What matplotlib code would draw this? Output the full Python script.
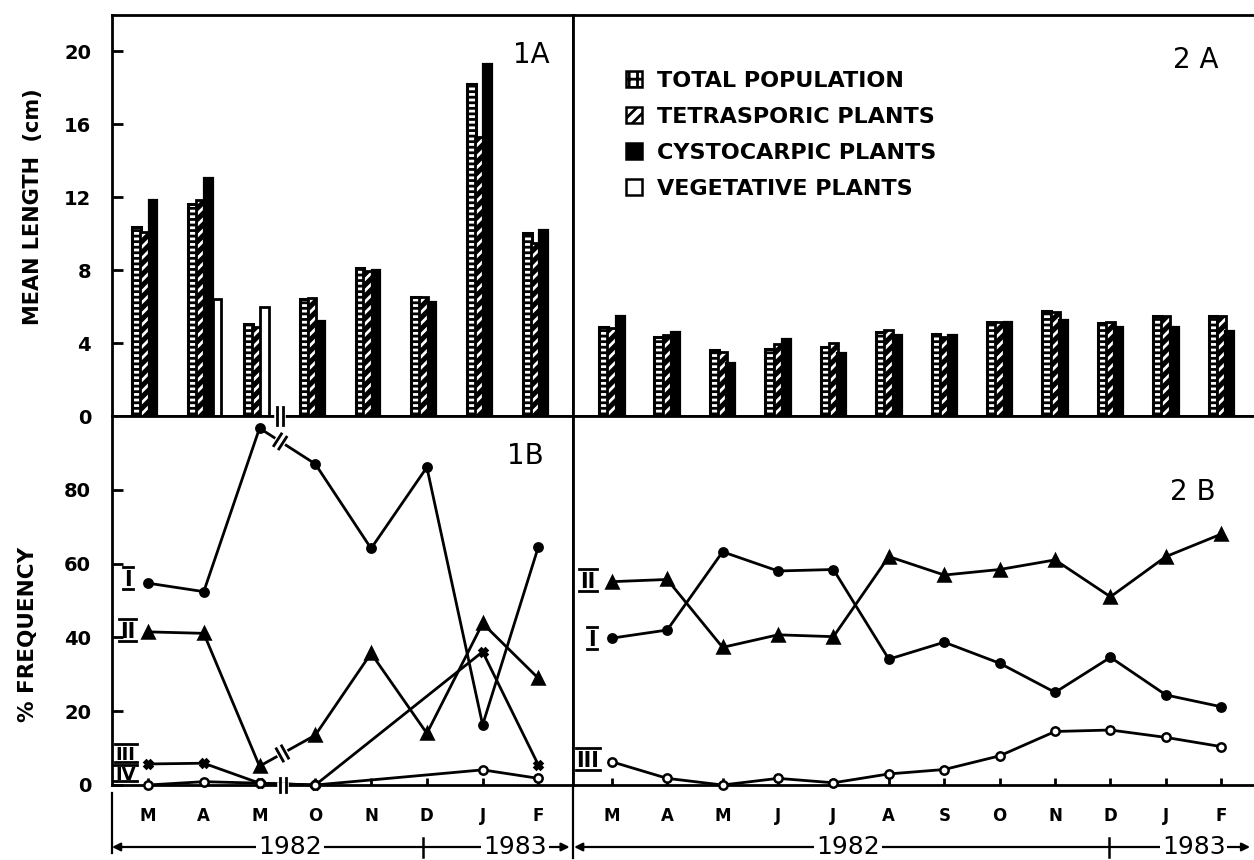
import numpy as np
import matplotlib.pyplot as plt
from matplotlib.lines import Line2D
from matplotlib.patches import Patch
from matplotlib.transforms import IdentityTransform, blended_transform_factory

plt.rcParams['font.family'] = 'DejaVu Sans'
plt.rcParams['hatch.linewidth'] = 2.0

nan = np.nan

# station 1 (left panels)
months_1 = ['M', 'A', 'M', 'O', 'N', 'D', 'J', 'F']
total_1 = [10.35, 11.65, 5.05, 6.4, 8.1, 6.55, 18.2, 10.05]
tetra_1 = [10.1, 11.85, 4.9, 6.5, 7.95, 6.55, 15.3, 9.5]
cysto_1 = [11.85, 13.05, nan, 5.2, 8.0, 6.25, 19.3, 10.2]
veget_1 = [nan, 6.4, 6.0, nan, nan, nan, nan, nan]

freq1_I = [54.7, 52.4, 96.7, 87.0, 64.1, 86.1, 16.3, 64.6]
freq1_II = [41.5, 41.1, 5.1, 13.5, 35.7, 14.0, 43.8, 28.9]
freq1_III = [5.7, 5.9, 0.5, 0.0, nan, nan, 36.1, 5.4]
freq1_IV = [0.0, 0.9, 0.5, 0.0, nan, nan, 4.1, 1.8]

# station 2 (right panels)
months_2 = ['M', 'A', 'M', 'J', 'J', 'A', 'S', 'O', 'N', 'D', 'J', 'F']
total_2 = [4.87, 4.32, 3.63, 3.68, 3.81, 4.63, 4.49, 5.13, 5.77, 5.09, 5.49, 5.51]
tetra_2 = [4.85, 4.45, 3.5, 3.94, 4.0, 4.73, 4.36, 5.13, 5.7, 5.18, 5.46, 5.51]
cysto_2 = [5.51, 4.6, 2.93, 4.21, 3.44, 4.45, 4.45, 5.13, 5.27, 4.91, 4.91, 4.67]

freq2_I = [39.8, 42.0, 63.2, 58.0, 58.4, 34.1, 38.7, 33.0, 25.1, 34.6, 24.4, 21.2]
freq2_II = [55.1, 55.7, 37.3, 40.7, 40.2, 61.9, 56.9, 58.4, 61.0, 51.0, 61.9, 68.0]
freq2_III = [6.3, 1.8, 0.0, 1.8, 0.6, 3.0, 4.2, 7.9, 14.5, 14.9, 12.9, 10.4]

legend_labels = ['TOTAL POPULATION', 'TETRASPORIC PLANTS',
                 'CYSTOCARPIC PLANTS', 'VEGETATIVE PLANTS']

W, H = 1254, 860
fig = plt.figure(figsize=(W / 100, H / 100), dpi=100)


def add_axes(x0, y0, x1, y1):
    return fig.add_axes([x0 / W, 1 - y1 / H, (x1 - x0) / W, (y1 - y0) / H])


ax1a = add_axes(112, 15, 573, 416)
ax2a = add_axes(573, 15, 1254, 416)
ax1b = add_axes(112, 416, 573, 785)
ax2b = add_axes(573, 416, 1254, 785)

for ax in (ax1a, ax2a, ax1b, ax2b):
    for s in ax.spines.values():
        s.set_linewidth(2)
for ax in (ax2a, ax2b):
    ax.spines['right'].set_visible(False)

ax1a.set_xlim(-0.645, 7.62)
ax1b.set_xlim(-0.645, 7.62)
ax2a.set_xlim(-0.70, 11.59)
ax2b.set_xlim(-0.70, 11.59)
for ax in (ax1a, ax2a):
    ax.set_ylim(0, 22)
for ax in (ax1b, ax2b):
    ax.set_ylim(0, 100)


def draw_bars(ax, total, tetra, cysto, veget, offsets, width):
    x = np.arange(len(total))
    ax.bar(x + offsets[0], total, width, facecolor='white', edgecolor='black',
           hatch='---', linewidth=2.2, zorder=3)
    ax.bar(x + offsets[1], tetra, width, color='black', linewidth=0, zorder=4)
    ax.bar(x + offsets[1], tetra, width, facecolor='none', edgecolor='white',
           hatch='///', linewidth=0, zorder=4)
    ax.bar(x + offsets[1], tetra, width, facecolor='none', edgecolor='black',
           linewidth=2.0, zorder=4)
    if cysto is not None:
        ax.bar(x + offsets[2], cysto, width, color='black', linewidth=1.6,
               edgecolor='black', zorder=5)
    if veget is not None:
        cy = np.array(cysto, dtype=float)
        vx = np.where(np.isnan(cy), x + offsets[2], x + offsets[3])
        ax.bar(vx, veget, width, facecolor='white', edgecolor='black',
               linewidth=2.0, zorder=5)


draw_bars(ax1a, total_1, tetra_1, cysto_1, veget_1, [-0.2, -0.06, 0.09, 0.24], 0.155)
draw_bars(ax2a, total_2, tetra_2, cysto_2, None, [-0.15, 0.0, 0.15], 0.16)


def draw_series(ax, values, marker, ms, filled=True):
    x = np.arange(len(values))
    y = np.array(values, dtype=float)
    ok = ~np.isnan(y)
    ax.plot(x[ok], y[ok], color='black', lw=2, marker=marker, ms=ms,
            mfc='black' if filled else 'white', mec='black', mew=1.8,
            zorder=5, clip_on=False)


draw_series(ax1b, freq1_I, 'o', 6)
draw_series(ax1b, freq1_II, '^', 8)
draw_series(ax1b, freq1_III, 'X', 6)
draw_series(ax1b, freq1_IV, 'o', 6, filled=False)
draw_series(ax2b, freq2_I, 'o', 6)
draw_series(ax2b, freq2_II, '^', 8)
draw_series(ax2b, freq2_III, 'o', 6, filled=False)

# ticks and labels
for ax in (ax1a, ax2a):
    ax.set_xticks([])
ax1a.set_yticks(range(0, 21, 4))
ax1b.set_yticks(range(0, 81, 20))
for ax in (ax1a, ax1b):
    ax.tick_params(axis='y', direction='in', length=8, width=2, pad=15,
                   labelsize=14)
    for t in ax.get_yticklabels():
        t.set_fontweight('bold')
for ax in (ax2a, ax2b):
    ax.set_yticks([])
ax1b.set_xticks(range(len(months_1)))
ax1b.set_xticklabels(months_1)
ax2b.set_xticks(range(len(months_2)))
ax2b.set_xticklabels(months_2)
for ax in (ax1b, ax2b):
    ax.tick_params(axis='x', direction='in', length=5, width=2, pad=16,
                   labelsize=12)
    for t in ax.get_xticklabels():
        t.set_fontweight('bold')

fig.text(33 / W, 1 - 207 / H, 'MEAN LENGTH  (cm)', rotation=90, fontsize=15,
         fontweight='bold', ha='center', va='center')
fig.text(28 / W, 1 - 634 / H, '% FREQUENCY', rotation=90, fontsize=15.5,
         fontweight='bold', ha='center', va='center')

pkw = dict(fontsize=20, ha='center', va='center')
ax1a.text(0.909, 0.900, '1A', transform=ax1a.transAxes, **pkw)
ax2a.text(0.915, 0.888, '2 A', transform=ax2a.transAxes, **pkw)
ax1b.text(0.896, 0.892, '1B', transform=ax1b.transAxes, **pkw)
ax2b.text(0.910, 0.794, '2 B', transform=ax2b.transAxes, **pkw)

# legend
handles = [
    Patch(facecolor='white', edgecolor='black', hatch='++', linewidth=1.8),
    Patch(facecolor='white', edgecolor='black', hatch='///', linewidth=1.8),
    Patch(facecolor='black', edgecolor='black', linewidth=1.8),
    Patch(facecolor='white', edgecolor='black', linewidth=1.8),
]
ax2a.legend(handles, legend_labels, loc='upper left', bbox_to_anchor=(0.078, 0.860),
            frameon=False, borderpad=0, borderaxespad=0, handlelength=0.72,
            handleheight=0.72, handletextpad=0.65, labelspacing=0.72,
            prop=dict(size=16, weight='bold'))

# roman numeral series labels with bars above and below
fig.canvas.draw()
renderer = fig.canvas.get_renderer()


def roman(ax, x, y, txt, size=15, dy=11):
    t = ax.text(x, y, txt, fontsize=size, fontweight='bold', ha='center',
                va='center', zorder=6)
    bb = t.get_window_extent(renderer)
    cx, cy = ax.transData.transform((x, y))
    cy += 2
    for yy in (cy - dy, cy + dy):
        ax.add_line(Line2D([bb.x0 - 1, bb.x1 + 1], [yy, yy], transform=IdentityTransform(),
                           color='black', lw=2, clip_on=False, zorder=6))


roman(ax1b, -0.36, 55.6, 'I')
roman(ax1b, -0.37, 41.5, 'II')
roman(ax1b, -0.40, 8.0, 'III', size=13, dy=9)
roman(ax1b, -0.40, 2.6, 'IV', size=13, dy=8)
roman(ax2b, -0.43, 55.0, 'II')
roman(ax2b, -0.36, 39.3, 'I')
roman(ax2b, -0.43, 6.5, 'III')


# axis / line break marks
def break_mark(ax, p0, p1, frac, half=7, gap=3):
    a = ax.transData.transform(p0)
    b = ax.transData.transform(p1)
    d = (b - a) / np.hypot(*(b - a))
    n = np.array([-d[1], d[0]])
    c = a + frac * (b - a)
    tr = IdentityTransform()
    seg = np.array([c - gap * d, c + gap * d])
    ax.add_line(Line2D(seg[:, 0], seg[:, 1], transform=tr, color='white', lw=4,
                       zorder=7, clip_on=False))
    for s in (-gap, gap):
        m = c + s * d
        seg = np.array([m - half * n, m + half * n])
        ax.add_line(Line2D(seg[:, 0], seg[:, 1], transform=tr, color='black',
                           lw=2, zorder=8, clip_on=False))


break_mark(ax1b, (2, freq1_I[2]), (3, freq1_I[3]), 0.37)
break_mark(ax1b, (2, freq1_II[2]), (3, freq1_II[3]), 0.41)
break_mark(ax1b, (2, 0), (3, 0), 0.42)
break_mark(ax1b, (2, 100), (3, 100), 0.37, half=9)

# year lines under the month labels
y_year = 1 - 847 / H


def year_line(ax, x0, x1, x_split, labels):
    tr = blended_transform_factory(ax.transData, fig.transFigure)
    ax.annotate('', xy=(x0, y_year), xytext=(x1, y_year), xycoords=tr, textcoords=tr,
                arrowprops=dict(arrowstyle='<|-|>', color='black', lw=1.6,
                                mutation_scale=12, shrinkA=0, shrinkB=0),
                annotation_clip=False)
    ax.add_line(Line2D([x_split, x_split], [1 - 838 / H, 1 - 857 / H], transform=tr,
                       color='black', lw=1.8, clip_on=False))
    for lx, txt in labels:
        ax.text(lx, y_year, txt, transform=tr, fontsize=18, ha='center', va='center',
                bbox=dict(facecolor='white', edgecolor='none', pad=1.5))


year_line(ax1b, -0.645, 7.56, 4.93, [(2.54, '1982'), (6.58, '1983')])
year_line(ax2b, -0.68, 11.52, 8.98, [(4.26, '1982'), (10.5, '1983')])

fig.add_artist(Line2D([112 / W, 112 / W], [1 - 793 / H, 1 - 853 / H],
                      transform=fig.transFigure, color='black', lw=1.6))
fig.add_artist(Line2D([573 / W, 573 / W], [1 - 785 / H, 1 - 858 / H],
                      transform=fig.transFigure, color='black', lw=1.6))

fig.savefig('out.png', dpi=100)
